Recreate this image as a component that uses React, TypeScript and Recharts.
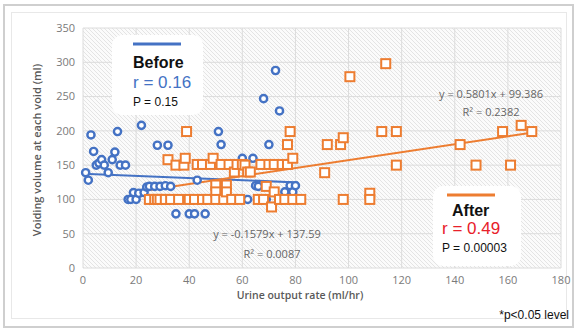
import React from "react";
import {
  ScatterChart,
  Scatter,
  XAxis,
  YAxis,
  CartesianGrid,
  ReferenceLine,
} from "recharts";

// Before: [urine output rate, voiding volume]
const beforeX = [1, 2, 3, 4, 5, 6, 7, 8, 9.5, 11, 12, 13, 14, 16, 17, 18, 19, 20, 21, 22, 23, 24, 25, 27, 28, 29, 31, 32, 33, 35, 40, 42, 43, 43, 46, 51, 52, 58, 60, 62, 64, 65, 66, 67, 68, 69, 70, 72.5, 74, 76, 77, 78, 79, 80, 80];
const beforeY = [139, 128, 194, 170, 150, 153, 158, 150, 139, 158, 169, 199, 150, 150, 100, 100, 110, 100, 109, 208, 110, 118, 119, 119, 179, 119, 120, 179, 119, 79, 79, 79, 128, 150, 79, 199, 180, 100, 160, 100, 160, 120, 119, 100, 247, 100, 180, 288, 229, 111, 100, 120, 111, 100, 120];

// After
const afterX = [25, 27, 28, 29, 31, 32, 33, 35, 36, 38, 38.5, 39, 40, 42, 43, 45, 45, 47, 48, 49, 50, 50, 50, 52, 53, 54, 54, 55, 56, 57, 58, 59, 60, 61, 62, 63, 66, 67, 68, 69, 70, 71, 72, 72, 74, 75, 76, 77, 77, 78, 79, 79, 82, 91, 92, 97, 98, 98, 100.5, 108, 108, 112.5, 114, 118, 118, 142, 148, 158, 161, 165, 169];
const afterY = [100, 100, 100, 100, 100, 158, 100, 150, 100, 150, 160, 199, 100, 100, 151, 100, 151, 100, 151, 160, 121, 111, 100, 151, 100, 121, 111, 151, 100, 140, 151, 100, 151, 150, 140, 140, 100, 151, 100, 119, 151, 89, 151, 111, 100, 151, 100, 151, 180, 199, 160, 100, 100, 139, 180, 180, 190, 100, 279, 109, 100, 199, 298, 199, 150, 180, 150, 199, 150, 208, 199];

// trendlines: [slope, intercept, xStart, xEnd]
const beforeTrend = [-0.1579, 137.59, 0, 81];
const afterTrend = [0.5801, 99.386, 25, 170];

const xTicks = [0, 20, 40, 60, 80, 100, 120, 140, 160, 180];
const yTicks = [0, 50, 100, 150, 200, 250, 300, 350];

const BLUE = "#4472C4";
const ORANGE = "#ED7D31";
const FONT = "'Open Sans', 'Liberation Sans', sans-serif";
const ARIAL = "'Liberation Sans', Arial, sans-serif";

const toPoints = (xs: number[], ys: number[]) => xs.map((x, i) => ({ x, y: ys[i] }));
const trendSeg = (t: number[]) => [
  { x: t[2], y: t[0] * t[2] + t[1] },
  { x: t[3], y: t[0] * t[3] + t[1] },
];

const Dot = (p: any) => (
  <circle cx={p.cx} cy={p.cy} r={3.6} fill="#fff" stroke={BLUE} strokeWidth={2.4} />
);
const Box = (p: any) => (
  <rect x={p.cx - 4.5} y={p.cy - 4.5} width={9} height={9} fill="#fff" stroke={ORANGE} strokeWidth={2} />
);

export default function App() {
  return (
    <div style={{ position: "absolute", left: 0, top: 0, width: 575, height: 331, background: "#fff" }}>
      <svg width={0} height={0} style={{ position: "absolute" }}>
        <defs>
          <pattern id="hatch" width={4} height={4} patternUnits="userSpaceOnUse">
            <rect width={4} height={4} fill="#fbfbfb" />
            <path d="M-1,-1 L5,5 M-1,3 L1,5 M3,-1 L5,1" stroke="#dadada" strokeWidth={0.7} />
          </pattern>
        </defs>
      </svg>
      <div style={{ position: "absolute", left: 3, top: 4, width: 567, height: 320, border: "2px solid #cfcfcf" }} />
      <div style={{ position: "absolute", left: 11, top: 12, width: 554, height: 305, border: "1px solid #e8e8e8" }} />
      <div style={{ position: "absolute", left: 0, top: 0 }}>
        <ScatterChart width={575} height={331} margin={{ top: 28, right: 14, bottom: 43, left: 53 }}>
          <CartesianGrid stroke="#dcdcdc" fill="url(#hatch)" fillOpacity={1} />
          <XAxis
            type="number"
            dataKey="x"
            domain={[0, 180]}
            ticks={xTicks}
            axisLine={false}
            tickLine={false}
            height={20}
            tick={{ fill: "#7a7a7a", fontSize: 11, fontFamily: FONT }}
          />
          <YAxis
            type="number"
            dataKey="y"
            domain={[0, 350]}
            ticks={yTicks}
            axisLine={false}
            tickLine={false}
            width={30}
            tick={{ fill: "#7a7a7a", fontSize: 11, fontFamily: FONT }}
          />
          <Scatter data={toPoints(beforeX, beforeY)} shape={Dot} isAnimationActive={false} />
          <Scatter data={toPoints(afterX, afterY)} shape={Box} isAnimationActive={false} />
          <ReferenceLine segment={trendSeg(beforeTrend)} stroke={BLUE} strokeWidth={2} />
          <ReferenceLine segment={trendSeg(afterTrend)} stroke={ORANGE} strokeWidth={2} />
        </ScatterChart>
      </div>
      <svg width={575} height={331} style={{ position: "absolute", left: 0, top: 0, pointerEvents: "none" }}>
        <text
          transform="translate(41,150) rotate(-90)"
          textAnchor="middle"
          fontFamily={FONT}
          fontSize={11}
          fontWeight={600}
          fill="#595959"
        >
          Voiding volume at each void (ml)
        </text>
        <text x={300} y={299} textAnchor="middle" fontFamily={FONT} fontSize={10.5} fontWeight={600} fill="#595959">
          Urine output rate  (ml/hr)
        </text>
        <text x={569} y={319} textAnchor="end" fontFamily={ARIAL} fontSize={12} fill="#111">
          *p&lt;0.05 level
        </text>
        <g fontFamily={FONT} fontSize={11} fill="#666">
          <text x={491} y={98} textAnchor="middle">y = 0.5801x + 99.386</text>
          <text x={491} y={116} textAnchor="middle">R² = 0.2382</text>
          <text x={267} y={238} textAnchor="middle">y = -0.1579x + 137.59</text>
          <text x={272} y={258} textAnchor="middle">R² = 0.0087</text>
        </g>
        <rect x={112} y={35} width={91} height={80} rx={10} fill="#fff" />
        <line x1={133} y1={44} x2={181} y2={44} stroke={BLUE} strokeWidth={3} />
        <text x={133} y={68} fontFamily={ARIAL} fontSize={16} fontWeight={700} fill="#111">Before</text>
        <text x={133} y={88} fontFamily={ARIAL} fontSize={17} fill={BLUE}>r = 0.16</text>
        <text x={133} y={106} fontFamily={ARIAL} fontSize={12} fill="#111">P = 0.15</text>
        <rect x={433} y={186} width={88} height={80} rx={10} fill="#fff" />
        <line x1={447} y1={195} x2={495} y2={195} stroke={ORANGE} strokeWidth={3} />
        <text x={452} y={216} fontFamily={ARIAL} fontSize={16} fontWeight={700} fill="#111">After</text>
        <text x={442} y={234} fontFamily={ARIAL} fontSize={17} fill="#E8202A">r = 0.49</text>
        <text x={442} y={252} fontFamily={ARIAL} fontSize={12} fill="#111">P = 0.00003</text>
      </svg>
    </div>
  );
}
